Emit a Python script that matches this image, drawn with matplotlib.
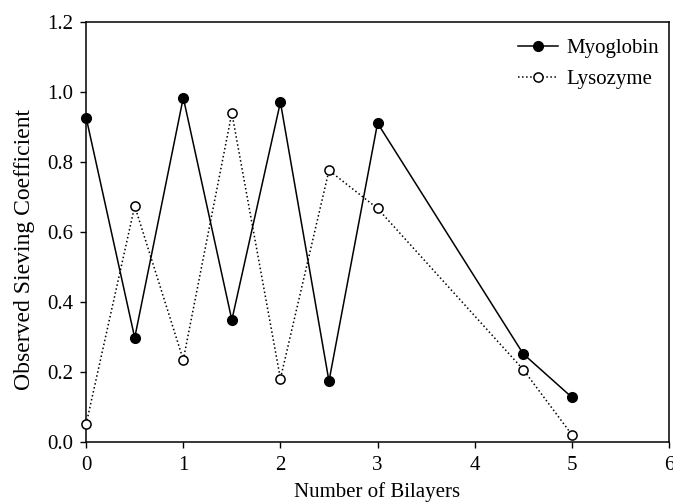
import matplotlib
matplotlib.use("Agg")
import matplotlib.pyplot as plt

bilayers = [0, 0.5, 1, 1.5, 2, 2.5, 3, 4.5, 5]
myoglobin = [0.927, 0.297, 0.984, 0.348, 0.971, 0.173, 0.911, 0.251, 0.127]
lysozyme = [0.050, 0.674, 0.234, 0.940, 0.180, 0.776, 0.667, 0.206, 0.020]
xticks = [0, 1, 2, 3, 4, 5, 6]
yticks = [0.0, 0.2, 0.4, 0.6, 0.8, 1.0, 1.2]

plt.rcParams['font.family'] = ['Liberation Serif', 'DejaVu Serif']
plt.rcParams['font.size'] = 15

fig = plt.figure(figsize=(6.73, 5.03), dpi=100)
ax = fig.add_axes([0.128, 0.122, 0.866, 0.834])

ax.plot(bilayers, myoglobin, '-', color='black', lw=1.1, marker='o', ms=7,
        mfc='black', mec='black', label='Myoglobin', clip_on=False, zorder=3)
ax.plot(bilayers, lysozyme, ':', color='black', lw=1.1, marker='o', ms=6.6,
        mfc='white', mec='black', mew=1.1, label='Lysozyme', clip_on=False, zorder=3)

ax.set_xlim(0, 6)
ax.set_ylim(0, 1.2)
ax.set_xticks(xticks)
ax.set_xticklabels([str(v) for v in xticks])
ax.set_yticks(yticks)
ax.set_yticklabels([f"{v:.1f}" for v in yticks])
ax.tick_params(direction='out', length=4.5, width=1, top=False, right=False)
ax.tick_params(axis='x', pad=6)
ax.tick_params(axis='y', pad=5)
for s in ax.spines.values():
    s.set_linewidth(1.1)

ax.set_xlabel('Number of Bilayers', va='top')
ax.xaxis.set_label_coords(0.5, -0.097)
ax.set_ylabel('Observed Sieving Coefficient', fontsize=17)
ax.yaxis.set_label_coords(-0.087, 0.459)

ax.legend(loc='upper right', bbox_to_anchor=(1.0, 0.986), frameon=False,
          handlelength=1.9, handletextpad=0.4, borderaxespad=0.1, labelspacing=0.55)

fig.savefig('out.png', dpi=100)
